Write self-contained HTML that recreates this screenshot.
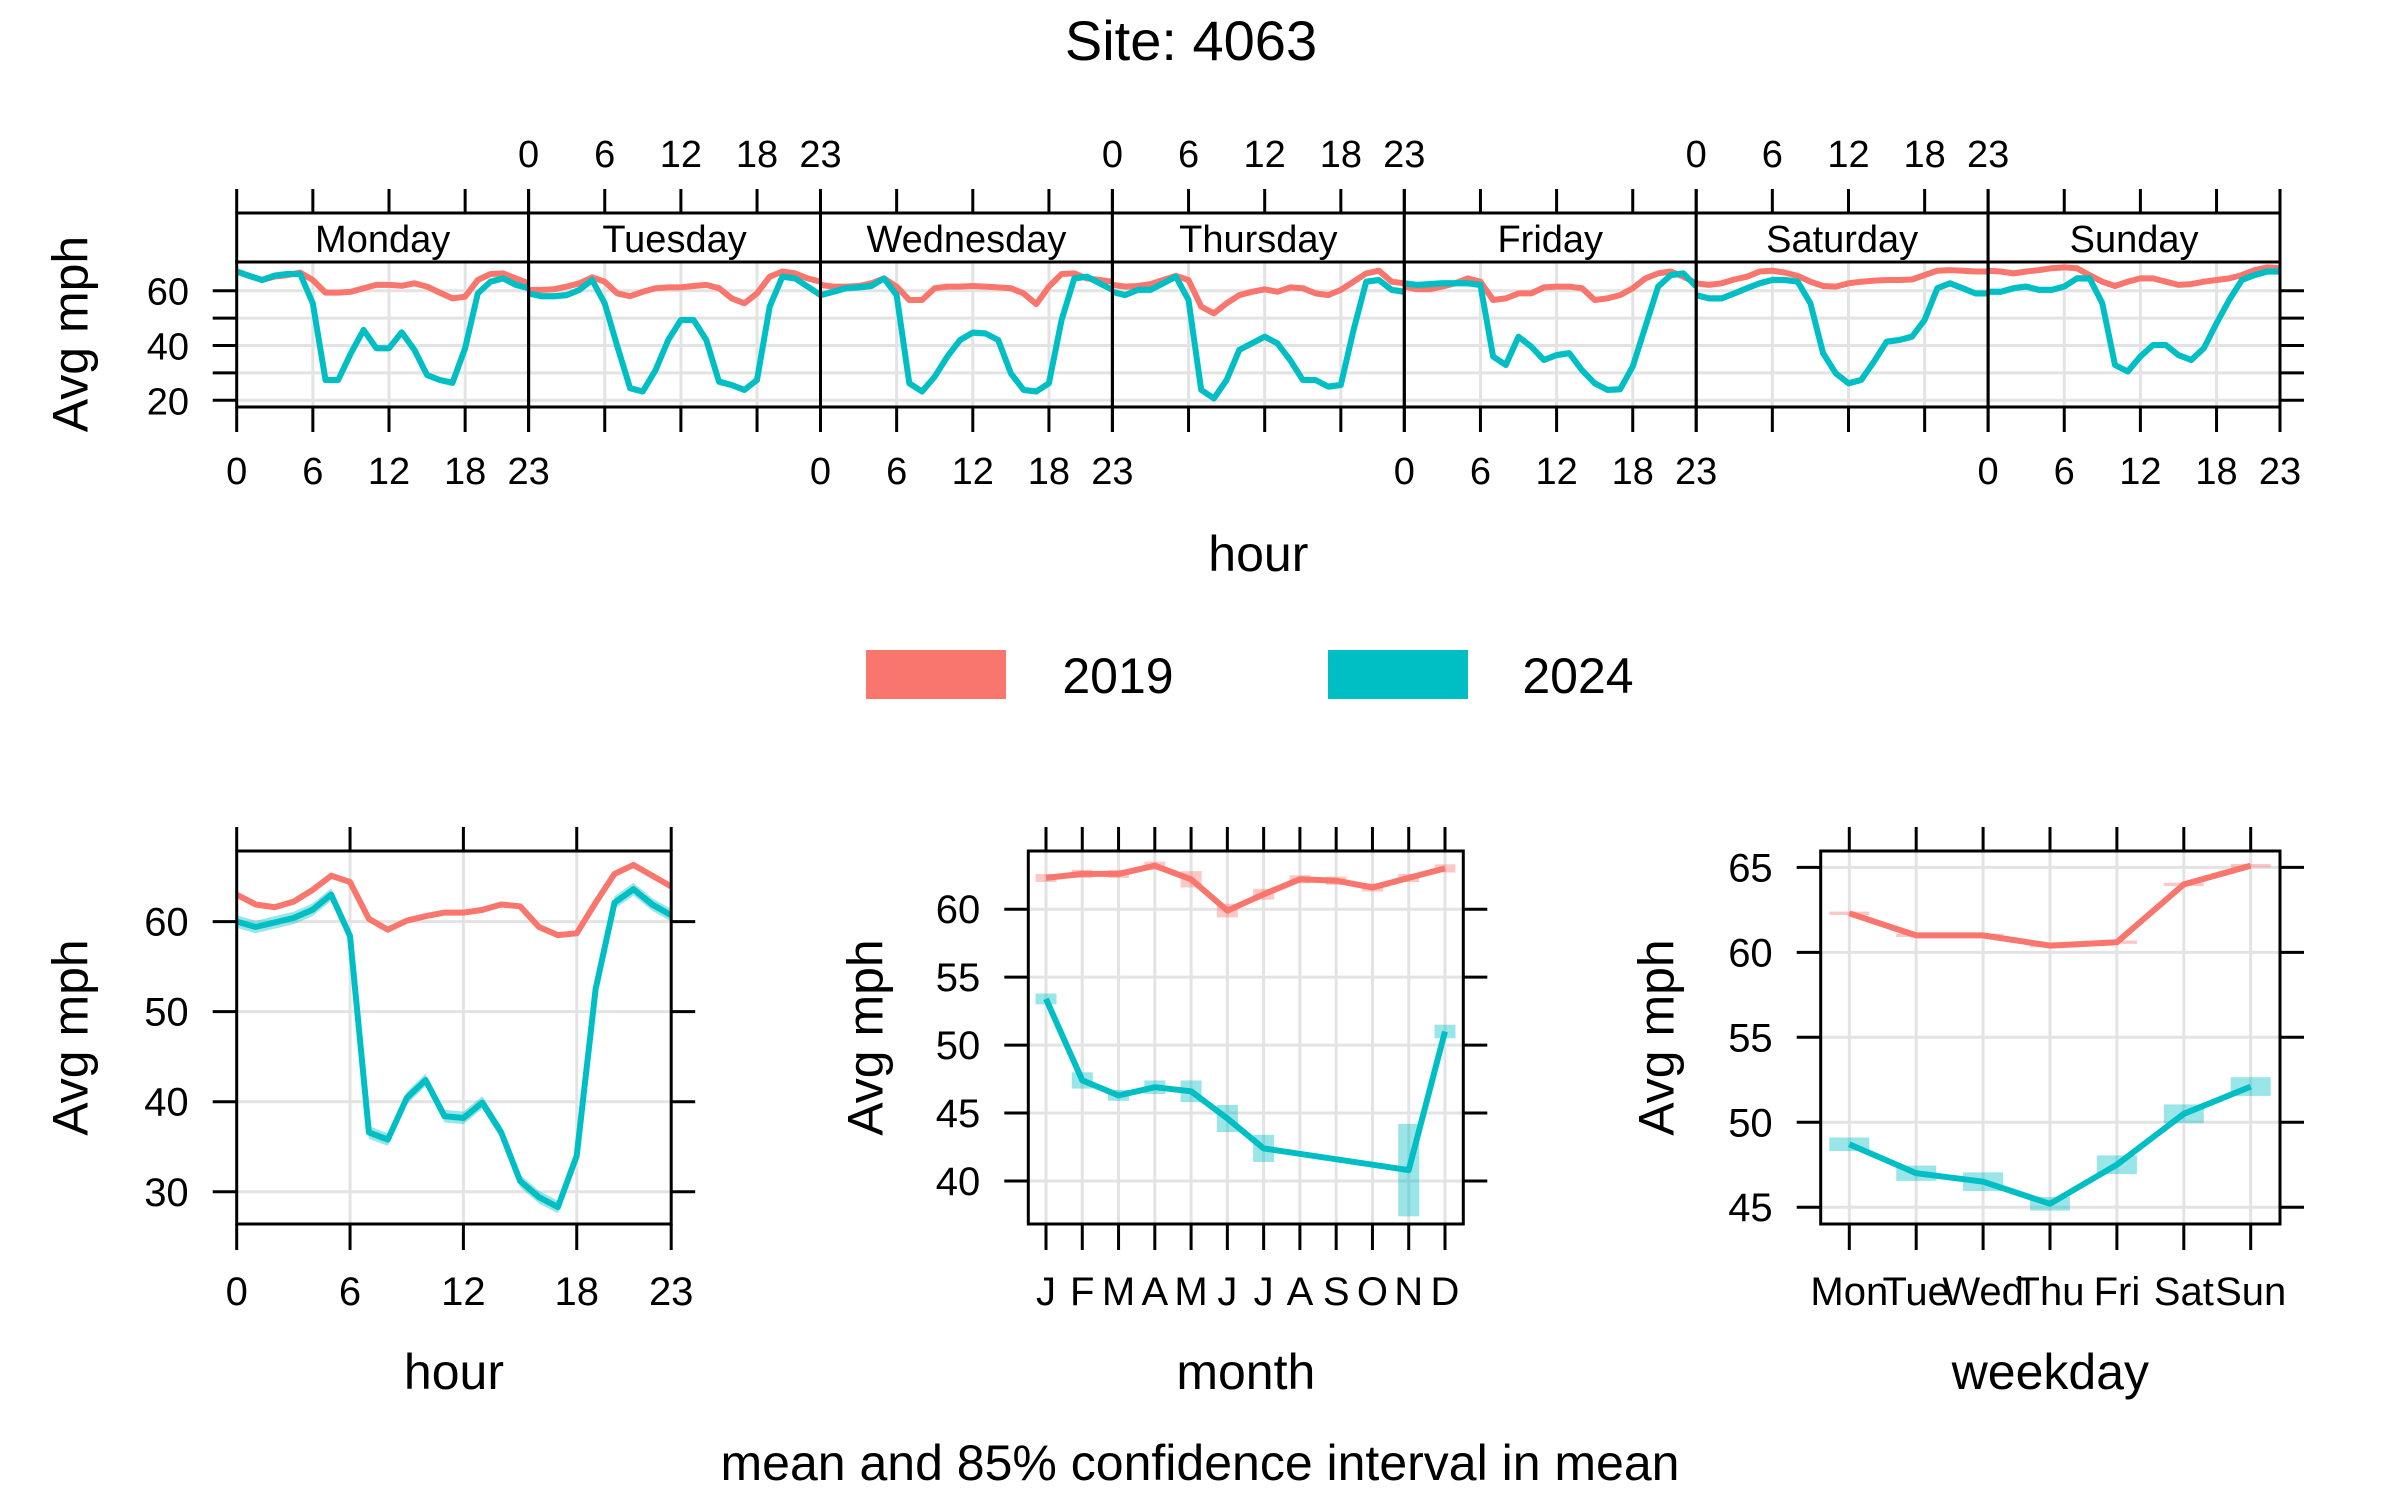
<!DOCTYPE html>
<html><head><meta charset="utf-8"><style>
html,body{margin:0;padding:0;background:#fff;}
svg{display:block;font-family:"Liberation Sans",Arial,sans-serif;}
</style></head><body>
<svg id="chart" xmlns="http://www.w3.org/2000/svg" width="2400" height="1500" viewBox="0 0 2400 1500">
<rect width="2400" height="1500" fill="#fff"/>
<text x="1191" y="60" font-size="56" text-anchor="middle">Site: 4063</text>
<g>
<rect x="866" y="650" width="140" height="49" fill="#F8766D"/>
<text x="1118" y="693" font-size="50" text-anchor="middle">2019</text>
<rect x="1328" y="650" width="140" height="49" fill="#00BFC4"/>
<text x="1578" y="693" font-size="50" text-anchor="middle">2024</text>
</g>
<text x="1200" y="1480" font-size="50" text-anchor="middle">mean and 85% confidence interval in mean</text>
</svg>
<script>
// ---------- data ----------
const days = ["Monday","Tuesday","Wednesday","Thursday","Friday","Saturday","Sunday"];
const hourTicks = [0,6,12,18,23];
const dayHour2019 = [
[67,65.4,63.9,65.2,65.7,66.6,63.9,59.3,59.3,59.6,60.9,62.1,62.1,61.8,62.7,61.5,59.3,57.2,57.8,63.9,66.1,66.3,64.5,62.7],
[60.3,60.3,60.5,61.5,62.7,64.9,63.3,59,58,59.6,60.9,61.2,61.2,61.7,62.1,60.9,57.2,55.4,59,65.1,67,66.3,64.5,63.3],
[62.1,61.5,61.5,61.7,62.7,64.5,61.5,56.6,56.6,60.9,61.5,61.5,61.7,61.5,61.2,60.9,59,55.1,61.5,66.1,66.3,64.5,63.9,63.3],
[62.1,61.5,61.7,62.4,63.9,65.4,63.9,54.2,51.7,55.4,58.4,59.6,60.5,59.6,61.2,60.9,59,58.4,60.3,63.3,66.3,67.3,63.3,62.7],
[61.5,60.5,60.5,61.5,62.7,64.5,63.3,56.6,57.2,59,59,61.2,61.5,61.5,60.9,56.6,57.2,58.4,60.9,64.5,66.3,67,65.1,62.7],
[62.7,62.1,62.7,64.1,65.1,67,67.3,66.6,65.4,63.3,61.7,61.5,62.7,63.3,63.7,63.9,63.9,64.1,65.7,67.3,67.5,67.3,67,67],
[67.3,67,66.3,67,67.5,68.2,68.5,68.2,65.7,63.3,61.7,63.3,64.5,64.5,63.3,62.1,62.4,63.3,63.9,64.5,65.7,67.5,68.5,68.2]];
const dayHour2024 = [
[67,65.4,63.9,65.5,66.1,66.1,55.4,27.4,27.4,37.2,45.7,39,39,44.8,38.4,29.2,27.4,26.4,39,59,63.3,64.5,62.1,60.9],
[59,58,58,58.4,60.3,63.9,55.4,39.6,24.4,23.2,31,42,49.3,49.3,42,26.8,25.6,23.8,27.4,54.2,65.1,64.5,61.5,58.4],
[58.4,59.6,60.9,61.2,61.7,64.5,58.4,26.2,23.2,28.6,36,42,44.7,44.4,42,29.8,23.8,23.2,26.2,49.3,64.5,65.1,62.7,60.3],
[59.6,58.4,60.3,60.3,62.7,65.1,56.6,23.8,20.7,27.4,38.4,40.8,43.2,40.8,34.7,27.4,27.4,25,25.6,45.6,63.3,63.9,60.3,59.6],
[62.7,62.1,62.4,62.7,62.7,62.7,62.1,36,32.9,43.2,39.6,34.7,36.5,37.2,31,26.2,23.8,24,32.3,46.9,61.5,65.7,66.3,61.5],
[58.4,57.2,57.2,59,60.9,62.7,63.9,63.9,63.3,55.4,37.2,29.8,26.2,27.4,34.1,41.4,42,43.2,49.3,60.9,62.7,60.9,59,59],
[59.6,59.6,60.9,61.5,60.3,60.3,61.5,64.5,64.5,55.4,32.9,30.5,36,40.2,40.2,36.5,34.7,39,48.1,56.6,63.9,65.7,67,67]];
const topYTicks = [20,30,40,50,60];
const topYLabels = ["20","","40","","60"];

const hours = [0,1,2,3,4,5,6,7,8,9,10,11,12,13,14,15,16,17,18,19,20,21,22,23];
const hour2019 = [63,61.9,61.6,62.2,63.5,65.1,64.4,60.3,59.1,60.1,60.6,61,61,61.3,61.9,61.7,59.4,58.5,58.7,62.1,65.3,66.3,65.1,63.9];
const hour2024 = [60,59.4,59.9,60.4,61.3,63,58.4,36.6,35.8,40.4,42.4,38.4,38.2,39.9,36.6,31.2,29.4,28.3,34,52.5,62.1,63.6,61.9,60.7];
const hourYTicks = [30,40,50,60];

const months = ["J","F","M","A","M","J","J","A","S","O","N","D"];
const month2019 = [62.3,62.6,62.6,63.2,62.2,59.9,61.1,62.2,62.1,61.6,62.3,63.0];
const month2019ci = [0.3,0.3,0.3,0.3,0.6,0.5,0.4,0.3,0.3,0.3,0.3,0.3];
const month2024 = [53.4,47.4,46.3,46.9,46.6,44.6,42.4,null,null,null,40.8,51.0];
const month2024ci = [0.4,0.6,0.4,0.5,0.8,1.0,1.0,null,null,null,3.4,0.5];
const monthYTicks = [40,45,50,55,60];

const weekdays = ["Mon","Tue","Wed","Thu","Fri","Sat","Sun"];
const wday2019 = [62.3,61.0,61.0,60.4,60.6,64.0,65.1];
const wday2019ci = [0.1,0.1,0.1,0.1,0.1,0.1,0.1];
const wday2024 = [48.7,47.0,46.5,45.2,47.5,50.5,52.1];
const wday2024ci = [0.4,0.45,0.55,0.4,0.55,0.55,0.55];
const wdayYTicks = [45,50,55,60,65];

// ---------- helpers ----------
const NS = "http://www.w3.org/2000/svg";
const svg = document.getElementById("chart");
const RED = "#F8766D", CYAN = "#00BFC4";
const LW = 6;
function mk(tag, attrs, parent){
  const e = document.createElementNS(NS, tag);
  for (const k in attrs) e.setAttribute(k, attrs[k]);
  (parent||svg).appendChild(e);
  return e;
}
function txt(x,y,s,size,anchor,parent){
  const t = mk("text",{x:x,y:y,"font-size":size,"text-anchor":anchor||"middle"},parent);
  t.textContent = s;
  return t;
}
function line(x1,y1,x2,y2,stroke,w,parent){
  return mk("line",{x1:x1,y1:y1,x2:x2,y2:y2,stroke:stroke,"stroke-width":w},parent);
}
function ylab(x,y,parent){
  const t = mk("text",{x:0,y:0,"font-size":50,"text-anchor":"middle",transform:"translate("+x+","+y+") rotate(-90)",dy:"0.35em"},parent);
  t.textContent = "Avg mph";
  
  
}
function poly(pts){ return pts.map(p=>p[0].toFixed(1)+","+p[1].toFixed(1)).join(" "); }
function bandPoly(xs, lo, hi){
  const a=[],b=[];
  for(let i=0;i<xs.length;i++){a.push([xs[i],hi[i]]);}
  for(let i=xs.length-1;i>=0;i--){b.push([xs[i],lo[i]]);}
  return poly(a.concat(b));
}

// ---------- top: day x hour ----------
(function(){
  const g = mk("g",{});
  
  
  const L0 = 236.7, PW = 291.9, T = 262, B = 407, ST = 213;
  const y = v => 400.3 - (v-20)*2.74;
  const R = L0 + 7*PW;
  const defs = mk("defs",{},g);
  const cp = mk("clipPath",{id:"clipTop"},defs);
  mk("rect",{x:L0,y:T,width:7*PW,height:B-T},cp);
  for (let d=0; d<7; d++){
    const left = L0 + d*PW;
    const xh = h => left + h*PW/23;
    [6,12,18].forEach(h=>{ const l=line(xh(h),T,xh(h),B,"#e3e3e3",3,g);   });
  }
  topYTicks.forEach(v=>{ const l=line(L0,y(v),R,y(v),"#e3e3e3",3,g);   });
  const sg = mk("g",{"clip-path":"url(#clipTop)"},g);
  for (let d=0; d<7; d++){
    const left = L0 + d*PW;
    const xh = h => left + h*PW/23;
    const xs = hours.map(xh);
    [[dayHour2019[d],RED,0.6,"2019"],[dayHour2024[d],CYAN,1.2,"2024"]].forEach(s=>{
      const vals = s[0];
      const band = mk("polygon",{points:bandPoly(xs, vals.map(v=>y(v-s[2])), vals.map(v=>y(v+s[2]))),fill:s[1],"fill-opacity":0.4},sg);
      
      
      const pl = mk("polyline",{points:poly(vals.map((v,i)=>[xs[i],y(v)])),fill:"none",stroke:s[1],"stroke-width":LW,"stroke-linejoin":"round"},sg);
      
      
    });
  }
  for (let d=0; d<7; d++){
    const left = L0 + d*PW;
    const xh = h => left + h*PW/23;
    const fr = mk("rect",{x:left,y:T,width:PW,height:B-T,fill:"none",stroke:"#000","stroke-width":3},g);
    
    
    const st = mk("rect",{x:left,y:ST,width:PW,height:T-ST,fill:"#fff",stroke:"#000","stroke-width":3},g);
    
    
    const sl = txt(left+PW/2,252,days[d],38,"middle",g);
    
    
    hourTicks.forEach(h=>{
      line(xh(h),189,xh(h),ST,"#000",3,g);
      line(xh(h),B,xh(h),432,"#000",3,g);
      if (d%2===0){
        const t = txt(xh(h),484,String(h),38,"middle",g);
        
        
      } else {
        const t = txt(xh(h),167,String(h),38,"middle",g);
        
        
      }
    });
  }
  topYTicks.forEach((v,i)=>{
    line(212.7,y(v),L0,y(v),"#000",3,g);
    line(R,y(v),R+24,y(v),"#000",3,g);
    if (topYLabels[i]){
      const t = txt(189,y(v)+14,topYLabels[i],38,"end",g);
      
      
    }
  });
  const xt = txt((L0+R)/2,571,"hour",50,"middle",g);
  
  
  ylab(70,334,g);
})();

// ---------- generic bottom panel ----------
function bottomPanel(opt){
  const g = mk("g",{});
  
  
  const {L,R,T,B} = opt;
  const x = opt.x, y = opt.y;
  const cid = "clip-"+opt.name;
  const defs = mk("defs",{},g);
  const cp = mk("clipPath",{id:cid},defs);
  mk("rect",{x:L,y:T,width:R-L,height:B-T},cp);
  opt.xGrid.forEach(k=>{ const l=line(x(k),T,x(k),B,"#e3e3e3",3,g);   });
  opt.yTicks.forEach(v=>{ const l=line(L,y(v),R,y(v),"#e3e3e3",3,g);   });
  const sg = mk("g",{"clip-path":"url(#"+cid+")"},g);
  opt.draw(sg);
  const fr = mk("rect",{x:L,y:T,width:R-L,height:B-T,fill:"none",stroke:"#000","stroke-width":3},g);
  
  
  opt.xTicks.forEach((k,i)=>{
    line(x(k),T-24,x(k),T,"#000",3,g);
    line(x(k),B,x(k),B+26,"#000",3,g);
    const t = txt(x(k),1305,opt.xLabels[i],40,"middle",g);
    
    
  });
  opt.yTicks.forEach(v=>{
    line(L-24,y(v),L,y(v),"#000",3,g);
    line(R,y(v),R+24,y(v),"#000",3,g);
    const t = txt(L-48,y(v)+14,String(v),40,"end",g);
    
    
  });
  const xt = txt((L+R)/2,1389,opt.xTitle,50,"middle",g);
  
  
  ylab(opt.yTitleX,(T+B)/2,g);
}

const BT = 851, BB = 1224;

// hour panel
(function(){
  const L=236.7, R=671.2;
  const x = h => L + h*(R-L)/23;
  const y = v => 921.6 - (v-60)*9.007;
  bottomPanel({name:"hour-panel",L:L,R:R,T:BT,B:BB,x:x,y:y,
    xGrid:[6,12,18], xTicks:hourTicks, xLabels:hourTicks.map(String), yTicks:hourYTicks,
    xTitle:"hour", yTitleX:70,
    draw:function(sg){
      const xs = hours.map(x);
      [[hour2019,RED,0.3,"2019"],[hour2024,CYAN,0.7,"2024"]].forEach(s=>{
        const band = mk("polygon",{points:bandPoly(xs, s[0].map(v=>y(v-s[2])), s[0].map(v=>y(v+s[2]))),fill:s[1],"fill-opacity":0.4},sg);
        
        
        const pl = mk("polyline",{points:poly(s[0].map((v,i)=>[xs[i],y(v)])),fill:"none",stroke:s[1],"stroke-width":LW,"stroke-linejoin":"round"},sg);
        
        
      });
    }});
})();

// month panel
(function(){
  const L=1028.3, R=1463.3;
  const x = i => 1046 + i*(1445-1046)/11;
  const y = v => 1181 - (v-40)*13.59;
  const idx = months.map((m,i)=>i);
  bottomPanel({name:"month-panel",L:L,R:R,T:BT,B:BB,x:x,y:y,
    xGrid:idx, xTicks:idx, xLabels:months, yTicks:monthYTicks,
    xTitle:"month", yTitleX:865,
    draw:function(sg){
      [[month2019,month2019ci,RED,"2019"],[month2024,month2024ci,CYAN,"2024"]].forEach(s=>{
        s[0].forEach((v,i)=>{
          if (v===null) return;
          const r = mk("rect",{x:x(i)-10.5,y:y(v+s[1][i]),width:21,height:Math.max(3,y(v-s[1][i])-y(v+s[1][i])),fill:s[2],"fill-opacity":0.4},sg);
          
          
        });
        const pts = [];
        s[0].forEach((v,i)=>{ if (v!==null) pts.push([x(i),y(v)]); });
        const pl = mk("polyline",{points:poly(pts),fill:"none",stroke:s[2],"stroke-width":LW,"stroke-linejoin":"round"},sg);
        
        
      });
    }});
})();

// weekday panel
(function(){
  const L=1820.7, R=2280;
  const x = i => 1849.3 + i*(2250.7-1849.3)/6;
  const y = v => 1207.2 - (v-45)*16.99;
  const idx = weekdays.map((d,i)=>i);
  bottomPanel({name:"weekday-panel",L:L,R:R,T:BT,B:BB,x:x,y:y,
    xGrid:idx, xTicks:idx, xLabels:weekdays, yTicks:wdayYTicks,
    xTitle:"weekday", yTitleX:1656,
    draw:function(sg){
      [[wday2019,wday2019ci,RED,"2019"],[wday2024,wday2024ci,CYAN,"2024"]].forEach(s=>{
        s[0].forEach((v,i)=>{
          const r = mk("rect",{x:x(i)-20,y:y(v+s[1][i]),width:40,height:Math.max(3,y(v-s[1][i])-y(v+s[1][i])),fill:s[2],"fill-opacity":0.4},sg);
          
          
        });
        const pl = mk("polyline",{points:poly(s[0].map((v,i)=>[x(i),y(v)])),fill:"none",stroke:s[2],"stroke-width":LW,"stroke-linejoin":"round"},sg);
        
        
      });
    }});
})();
</script>
</body></html>
